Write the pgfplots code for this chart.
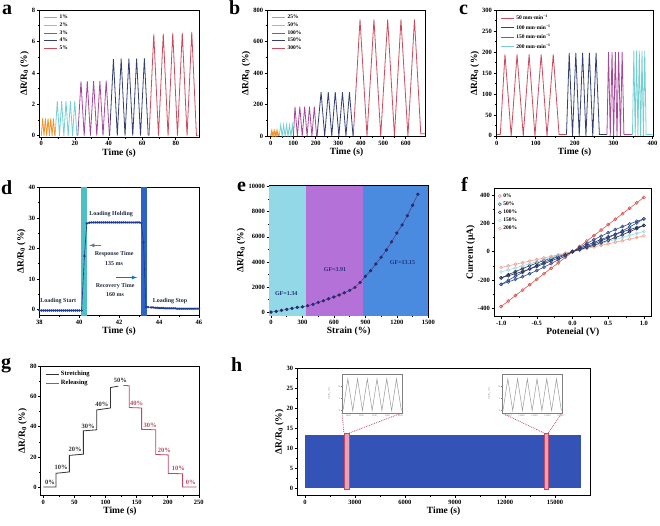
\documentclass[border=0pt]{standalone}
\usepackage{fontspec}
\setmainfont{Liberation Serif}
\usepackage{pgfplots}
\pgfplotsset{compat=1.18}
\definecolor{corange}{HTML}{F0952E}
\definecolor{ccyan}{HTML}{74CFD3}
\definecolor{cpurple}{HTML}{A6489A}
\definecolor{cnavy}{HTML}{34406F}
\definecolor{cred}{HTML}{C84B5E}
\definecolor{ecyan}{HTML}{93D8E6}
\definecolor{epurple}{HTML}{B472D8}
\definecolor{eblue}{HTML}{4A8BE0}
\definecolor{enavy}{HTML}{23307A}
\definecolor{dcyan}{HTML}{4DBFC5}
\definecolor{dblue}{HTML}{2F62C6}
\definecolor{dline}{HTML}{1E3A8C}
\definecolor{fred}{HTML}{D9534F}
\definecolor{fnavy}{HTML}{2E4C8C}
\definecolor{fdark}{HTML}{26305A}
\definecolor{fcyan}{HTML}{A3D6DF}
\definecolor{fsalmon}{HTML}{EDA394}
\definecolor{gblack}{HTML}{333333}
\definecolor{gred}{HTML}{B94A62}
\definecolor{hblue}{HTML}{3453B6}
\definecolor{hpink}{HTML}{E9A3B5}
\definecolor{hpinkd}{HTML}{C24A66}
\definecolor{txt}{HTML}{222A40}
\pgfplotsset{
  panel/.style={
    scale only axis, anchor=south west,
    axis line style={line width=0.9pt},
    tick align=outside, tick pos=left,
    major tick length=2.5pt, minor tick length=1.5pt,
    tick style={line width=0.6pt, black},
    ticklabel style={font=\bfseries\fontsize{6.5}{7}\selectfont, inner sep=1.5pt},
    label style={font=\bfseries\fontsize{9.5}{10}\selectfont},
    xlabel style={yshift=2pt}, ylabel style={yshift=-2pt},
    scaled x ticks=false, scaled y ticks=false,
    /pgf/number format/assume math mode=true,
    /pgf/number format/1000 sep={},
    legend cell align=left,
    legend style={draw=none, fill=none, at={(0.02,0.985)}, anchor=north west,
      font=\bfseries\fontsize{5.5}{6}\selectfont, row sep=-1.5pt, inner sep=1pt},
    legend image code/.code={\draw[#1, line width=0.9pt] (0pt,0pt) -- (13pt,0pt);},
  },
  inset/.style={
    scale only axis, anchor=south west,
    axis background/.style={fill=white},
    axis line style={line width=0.4pt, gray},
    tick align=outside, tick pos=left, major tick length=1pt,
    tick style={line width=0.3pt, gray},
    ticklabel style={font=\fontsize{2.5}{3}\selectfont, inner sep=0.5pt, text=gray},
    label style={font=\fontsize{2.5}{3}\selectfont, text=gray},
    ylabel style={yshift=3pt},
    scaled x ticks=false, scaled y ticks=false,
    /pgf/number format/assume math mode=true,
    /pgf/number format/1000 sep={},
  },
}
\begin{document}
\begin{tikzpicture}
\path[use as bounding box] (0pt,0pt) rectangle (660pt,-526pt);

% ---------------- a
\begin{axis}[panel, at={(39.3pt,-137.3pt)}, width=159.7pt, height=127.3pt,
  xmin=-1.2, xmax=93.8, ymin=-0.1, ymax=8,
  xtick={0,20,40,60,80}, ytick={0,2,4,6,8}, minor x tick num=1, minor y tick num=1,
  xlabel={Time (s)}, ylabel={ΔR/R\textsubscript{0} (\%)}]
\addplot[corange, line width=0.8pt] coordinates {(0,0)(0.8,1.1)(1.6,0)(2.4,1.1)(3.2,0)(4.0,1.1)(4.8,0)(5.6,1.1)(6.4,0)(7.2,1.1)(8.0,0)};
\addlegendentry{1\%}
\addplot[ccyan, line width=0.8pt] coordinates {(8.2,0)(9.5,2.2)(10.8,0)(12.1,2.2)(13.4,0)(14.7,2.2)(16.0,0)(17.3,2.2)(18.6,0)(19.9,2.2)(21.2,0)};
\addlegendentry{2\%}
\addplot[cpurple, line width=0.8pt] coordinates {(21.7,0)(23.6,3.45)(25.5,0)(27.35,3.47)(29.2,0)(31.1,3.47)(33.0,0)(34.85,3.47)(36.7,0)(38.6,3.5)(40.5,0)};
\addlegendentry{3\%}
\addplot[cnavy, line width=0.8pt] coordinates {(40.6,0)(42.9,4.88)(45.2,0)(47.5,4.9)(49.8,0)(52.1,4.9)(54.4,0)(56.7,4.9)(59.0,0)(61.3,4.92)(63.6,0)};
\addlegendentry{4\%}
\addplot[cred, line width=0.8pt] coordinates {(64.1,0)(66.9,6.45)(69.7,0)(72.55,6.5)(75.4,0)(78.2,6.55)(81.0,0)(83.85,6.55)(86.7,0)(89.5,6.6)(92.3,0)(93.5,0)};
\addlegendentry{5\%}
\end{axis}

% ---------------- b
\begin{axis}[panel, at={(267.3pt,-136.7pt)}, width=158.4pt, height=126.7pt,
  xmin=-15, xmax=689, ymin=-4, ymax=800,
  xtick={0,100,...,600}, ytick={0,200,400,600,800}, minor x tick num=1, minor y tick num=1,
  xlabel={Time (s)}, ylabel={ΔR/R\textsubscript{0} (\%)}]
\addplot[corange, line width=0.8pt] coordinates {(0,0)(3.5,32)(7,0)(10.5,32)(14,0)(17.5,32)(21,0)(24.5,32)(28,0)(31.5,32)(35,0)};
\addlegendentry{25\%}
\addplot[ccyan, line width=0.8pt] coordinates {(38,0)(44.5,70)(51,0)(57.5,70)(64,0)(70.5,70)(77,0)(83.5,70)(90,0)(96.5,70)(101,0)};
\addlegendentry{50\%}
\addplot[cpurple, line width=0.8pt] coordinates {(101,0)(108,186)(118.75,0)(129.5,186)(140.25,0)(151,186)(161.75,0)(172.5,186)(183.25,0)(194,186)(204,0)};
\addlegendentry{100\%}
\addplot[cnavy, line width=0.8pt] coordinates {(206,0)(224,279)(240,0)(256,279)(271.5,0)(287,279)(303,0)(319,279)(334.5,0)(350,279)(366,0)};
\addlegendentry{150\%}
\addplot[cred, line width=0.8pt] coordinates {(367,0)(397,740)(428,0)(459,740)(489,0)(520,740)(550,0)(579,740)(610,0)(639,740)(667,15)(685,15)};
\addlegendentry{300\%}
\end{axis}

% ---------------- c
\begin{axis}[panel, at={(496pt,-136.7pt)}, width=157.3pt, height=126.7pt,
  xmin=-2, xmax=402, ymin=-2, ymax=300,
  xtick={0,100,...,400}, ytick={0,50,...,300}, minor x tick num=1, minor y tick num=1,
  xlabel={Time (s)}, ylabel={ΔR/R\textsubscript{0} (\%)},
  legend style={row sep=-0.5pt}]
\addplot[cred, line width=0.8pt] coordinates {(0,3)(9,3)(21,194)(37,0)(52,194)(68,0)(83,194)(98,0)(114,194)(129,0)(145,194)(160,3)(179,3)};
\addlegendentry{50 mm·min\textsuperscript{−1}}
\addplot[cnavy, line width=0.8pt] coordinates {(179,3)(186,198)(194.5,0)(203,198)(211.75,0)(220.5,198)(229,0)(237.75,198)(246.5,0)(255,198)(263.5,3)(283,3)};
\addlegendentry{100 mm·min\textsuperscript{−1}}
\addplot[cpurple, line width=0.8pt] coordinates {(283,3)(287,200)(291.5,0)(296,200)(300,0)(304.5,200)(308.75,0)(313,200)(317.5,0)(322,200)(326.5,3)(348.5,3)};
\addlegendentry{150 mm·min\textsuperscript{−1}}
\addplot[ccyan, line width=0.8pt] coordinates {(348.5,3)(352,203)(355.5,0)(359,203)(362.5,0)(366,203)(369.5,0)(373,203)(376.5,0)(380,203)(383.5,3)(400,3)};
\addlegendentry{200 mm·min\textsuperscript{−1}}
\end{axis}

% ---------------- d
\begin{axis}[panel, at={(39.3pt,-315.7pt)}, width=159.7pt, height=128.4pt,
  xmin=38, xmax=46, ymin=-2, ymax=40,
  xtick={38,40,...,46}, ytick={0,10,...,40}, minor x tick num=1, minor y tick num=1,
  xlabel={Time (s)}, ylabel={ΔR/R\textsubscript{0} (\%)}]
\addplot[fill=dcyan, draw=none, forget plot] coordinates {(40.08,-2)(40.08,40)(40.38,40)(40.38,-2)} --cycle;
\addplot[fill=dblue, draw=none, forget plot] coordinates {(43.08,-2)(43.08,40)(43.38,40)(43.38,-2)} --cycle;
\addplot[dline, line width=0.6pt, mark=*, mark size=0.9pt, mark options={fill=dline, draw=dline}] coordinates {
(38.0,-0.2)(38.1,-0.3)(38.2,-0.3)(38.3,-0.3)(38.4,-0.3)(38.5,-0.3)(38.6,-0.3)(38.7,-0.3)(38.8,-0.3)(38.9,-0.3)
(39.0,-0.3)(39.1,-0.3)(39.2,-0.3)(39.3,-0.3)(39.4,-0.3)(39.5,-0.3)(39.6,-0.3)(39.7,-0.3)(39.8,-0.3)(39.9,-0.3)
(40.0,-0.3)(40.12,-0.3)(40.26,17.5)(40.38,28.2)(40.5,28.4)(40.6,28.5)(40.7,28.5)(40.8,28.5)(40.9,28.5)(41.0,28.5)
(41.1,28.5)(41.2,28.5)(41.3,28.5)(41.4,28.5)(41.5,28.5)(41.6,28.5)(41.7,28.5)(41.8,28.5)(41.9,28.5)(42.0,28.5)
(42.1,28.5)(42.2,28.5)(42.3,28.5)(42.4,28.5)(42.5,28.5)(42.6,28.5)(42.7,28.5)(42.8,28.5)(42.9,28.5)(43.0,28.5)
(43.1,28.4)(43.22,22.0)(43.34,0.9)(43.45,0.8)(43.6,0.7)(43.7,0.7)(43.8,0.6)(43.9,0.6)(44.0,0.5)(44.1,0.5)
(44.2,0.5)(44.3,0.4)(44.4,0.4)(44.5,0.4)(44.6,0.4)(44.7,0.4)(44.8,0.4)(44.9,0.3)(45.0,0.3)(45.1,0.3)
(45.2,0.3)(45.3,0.3)(45.4,0.3)(45.5,0.3)(45.6,0.3)(45.7,0.3)(45.8,0.3)(45.9,0.3)(46.0,0.3)};
\begin{scope}[font=\bfseries\fontsize{6}{7}\selectfont, text=txt]
\node at (axis cs:41.6,31.3) {Loading Holding};
\node at (axis cs:41.75,18.1) {Response Time};
\node at (axis cs:41.75,14.9) {135 ms};
\node at (axis cs:41.8,7.8) {Recovery Time};
\node at (axis cs:41.8,4.9) {160 ms};
\node at (axis cs:38.95,2.8) {Loading Start};
\node at (axis cs:44.55,2.8) {Loading Stop};
\end{scope}
\draw[-latex, line width=0.8pt, color=gray!70!teal] (axis cs:41.1,21.0) -- (axis cs:40.5,21.0);
\draw[-latex, line width=0.8pt, color=dline!70!cyan] (axis cs:41.85,10.5) -- (axis cs:42.9,10.5);
\end{axis}

% ---------------- e
\begin{axis}[panel, at={(269pt,-315.7pt)}, width=159.3pt, height=130pt,
  xmin=-19, xmax=1500, ymin=-290, ymax=10080,
  xtick={0,300,...,1500}, ytick={0,2000,...,10000}, minor x tick num=1, minor y tick num=1,
  xlabel={Strain (\%)}, ylabel={ΔR/R\textsubscript{0} (\%)}]
\addplot[fill=ecyan, draw=none, forget plot] coordinates {(-19,-290)(-19,10080)(330,10080)(330,-290)} --cycle;
\addplot[fill=epurple, draw=none, forget plot] coordinates {(330,-290)(330,10080)(880,10080)(880,-290)} --cycle;
\addplot[fill=eblue, draw=none, forget plot] coordinates {(880,-290)(880,10080)(1500,10080)(1500,-290)} --cycle;
\addplot[color=enavy!70!red, line width=0.4pt, mark=*, mark size=1.5pt, mark options={fill=enavy, draw=enavy!80!black, line width=0.3pt}] coordinates {
(0,0)(50,50)(100,130)(150,210)(200,290)(250,370)(300,420)(350,505)(400,610)(450,770)
(500,900)(550,1060)(600,1200)(650,1360)(700,1540)(750,1730)(800,1970)(850,2360)(900,2850)(950,3300)
(1000,3830)(1050,4380)(1100,4950)(1150,5600)(1200,6300)(1250,6950)(1300,7680)(1350,8520)(1400,9400)};
\begin{scope}[font=\bfseries\fontsize{6}{7}\selectfont, text=enavy]
\node at (axis cs:145,1500) {GF=1.34};
\node at (axis cs:610,3380) {GF=3.91};
\node at (axis cs:1255,3940) {GF=13.15};
\end{scope}
\end{axis}

% ---------------- f
\begin{axis}[panel, at={(494pt,-316.7pt)}, width=157.7pt, height=128.4pt,
  xmin=-1.1, xmax=1.11, ymin=-459, ymax=447,
  xtick={-1,-0.5,0,0.5,1}, ytick={-400,-200,0,200,400}, minor x tick num=1, minor y tick num=1,
  xticklabel={\pgfmathprintnumber[fixed,fixed zerofill,precision=1]{\tick}},
  xlabel={Poteneial (V)}, ylabel={Current (μA)},
  legend style={row sep=-1pt},
  legend image code/.code={\draw[#1, line width=0.5pt] plot coordinates {(4pt,0pt)};}]
\addplot[fred, line width=0.6pt, mark=o, mark size=1.5pt] coordinates {
(-1,-387)(-0.9,-348.5)(-0.8,-310)(-0.7,-271.5)(-0.6,-233)(-0.5,-194.5)(-0.4,-156)(-0.3,-117.5)(-0.2,-79)(-0.1,-40.5)
(0,-2)(0.1,36.5)(0.2,75)(0.3,113.5)(0.4,152)(0.5,190.5)(0.6,229)(0.7,267.5)(0.8,306)(0.9,344.5)(1.0,383)};
\addlegendentry{0\%}
\addplot[fnavy, line width=0.6pt, mark=o, mark size=1.5pt] coordinates {
(-1,-231)(-0.9,-201.9)(-0.8,-173.8)(-0.7,-146.7)(-0.6,-121.6)(-0.5,-97.5)(-0.4,-75.4)(-0.3,-54.3)(-0.2,-35.2)(-0.1,-17.1)
(0,0)(0.1,29.1)(0.2,57.2)(0.3,84.3)(0.4,109.4)(0.5,133.5)(0.6,155.6)(0.7,176.7)(0.8,195.8)(0.9,213.9)(1.0,231)};
\addlegendentry{50\%}
\addplot[fdark, line width=0.6pt, mark=o, mark size=1.5pt] coordinates {
(-1,-185)(-0.9,-162.5)(-0.8,-140.5)(-0.7,-119.5)(-0.6,-99.5)(-0.5,-80.5)(-0.4,-62.5)(-0.3,-45.5)(-0.2,-29.5)(-0.1,-14.5)
(0,0)(0.1,22.5)(0.2,44.5)(0.3,65.5)(0.4,85.5)(0.5,104.5)(0.6,122.5)(0.7,139.5)(0.8,155.5)(0.9,170.5)(1.0,185)};
\addlegendentry{100\%}
\addplot[fcyan, line width=0.6pt, mark=o, mark size=1.5pt] coordinates {
(-1,-143)(-0.9,-128.7)(-0.8,-114.4)(-0.7,-100.1)(-0.6,-85.8)(-0.5,-71.5)(-0.4,-57.2)(-0.3,-42.9)(-0.2,-28.6)(-0.1,-14.3)
(0,0)(0.1,14.3)(0.2,28.6)(0.3,42.9)(0.4,57.2)(0.5,71.5)(0.6,85.8)(0.7,100.1)(0.8,114.4)(0.9,128.7)(1.0,143)};
\addlegendentry{150\%}
\addplot[fsalmon, line width=0.6pt, mark=o, mark size=1.5pt] coordinates {
(-1,-111)(-0.9,-99.9)(-0.8,-88.8)(-0.7,-77.7)(-0.6,-66.6)(-0.5,-55.5)(-0.4,-44.4)(-0.3,-33.3)(-0.2,-22.2)(-0.1,-11.1)
(0,0)(0.1,11.1)(0.2,22.2)(0.3,33.3)(0.4,44.4)(0.5,55.5)(0.6,66.6)(0.7,77.7)(0.8,88.8)(0.9,99.9)(1.0,111)};
\addlegendentry{200\%}
\addplot[fnavy, line width=0.6pt, mark=o, mark size=1.5pt, forget plot] coordinates {
(-1,-231)(-0.9,-213.9)(-0.8,-195.8)(-0.7,-176.7)(-0.6,-155.6)(-0.5,-133.5)(-0.4,-109.4)(-0.3,-84.3)(-0.2,-57.2)(-0.1,-29.1)
(0,0)(0.1,17.1)(0.2,35.2)(0.3,54.3)(0.4,75.4)(0.5,97.5)(0.6,121.6)(0.7,146.7)(0.8,173.8)(0.9,201.9)(1.0,231)};
\addplot[fdark, line width=0.6pt, mark=o, mark size=1.5pt, forget plot] coordinates {
(-1,-185)(-0.9,-170.5)(-0.8,-155.5)(-0.7,-139.5)(-0.6,-122.5)(-0.5,-104.5)(-0.4,-85.5)(-0.3,-65.5)(-0.2,-44.5)(-0.1,-22.5)
(0,0)(0.1,14.5)(0.2,29.5)(0.3,45.5)(0.4,62.5)(0.5,80.5)(0.6,99.5)(0.7,119.5)(0.8,140.5)(0.9,162.5)(1.0,185)};
\end{axis}

% ---------------- g
\begin{axis}[panel, at={(40.7pt,-495.7pt)}, width=158.6pt, height=129.7pt,
  xmin=-4.3, xmax=250.8, ymin=-5.8, ymax=80.4,
  xtick={0,50,...,250}, ytick={0,20,...,80}, minor x tick num=1, minor y tick num=1,
  xlabel={Time (s)}, ylabel={ΔR/R\textsubscript{0} (\%)},
  legend style={font=\bfseries\fontsize{6.5}{7}\selectfont, row sep=-1pt}]
\addplot[gblack, line width=0.8pt] coordinates {(0,0)(20.4,0)(20.4,9.1)(41.8,10)(41.8,21)(64.3,21.8)(64.3,37.3)(85.7,38)(85.7,51.2)(108,52.5)(108,66.1)(120.6,67)};
\addlegendentry{Stretching}
\addplot[gred, line width=0.8pt] coordinates {(128.6,67.5)(138,67.3)(138,52.8)(158,52.5)(158,38.3)(180.6,38)(180.6,21.6)(201,21.3)(201,9)(224,8.8)(224,0)(246.5,0)};
\addlegendentry{Releasing}
\begin{scope}[font=\bfseries\fontsize{6.5}{7}\selectfont]
\node[text=gblack] at (axis cs:10.7,3.1) {0\%};
\node[text=gblack] at (axis cs:28.4,13.3) {10\%};
\node[text=gblack] at (axis cs:51,25) {20\%};
\node[text=gblack] at (axis cs:72,40.5) {30\%};
\node[text=gblack] at (axis cs:94,55) {40\%};
\node[text=gblack] at (axis cs:124,71) {50\%};
\node[text=gred] at (axis cs:150,55.5) {40\%};
\node[text=gred] at (axis cs:171.5,40.8) {30\%};
\node[text=gred] at (axis cs:194.5,24.6) {20\%};
\node[text=gred] at (axis cs:217,12.4) {10\%};
\node[text=gred] at (axis cs:237,3) {0\%};
\end{scope}
\end{axis}

% ---------------- h
\begin{axis}[panel, at={(297.3pt,-495.7pt)}, width=292.7pt, height=127.4pt,
  xmin=-460, xmax=17100, ymin=-1.9, ymax=30,
  xtick={0,3000,...,15000}, ytick={0,5,...,30}, minor x tick num=1, minor y tick num=1,
  xlabel={Time (s)}, ylabel={ΔR/R\textsubscript{0} (\%)}]
\addplot[fill=hblue, draw=none] coordinates {(0,0)(0,13.2)(16540,13.2)(16540,0)} --cycle;
\addplot[fill=hpink, draw=hpinkd, line width=0.6pt] coordinates {(2340,-0.2)(2340,13.8)(2660,13.8)(2660,-0.2)} --cycle;
\addplot[fill=hpink, draw=hpinkd, line width=0.6pt] coordinates {(14340,-0.2)(14340,13.8)(14600,13.8)(14600,-0.2)} --cycle;
\draw[hpinkd, densely dotted, line width=0.8pt] (axis cs:2222,18.8) -- (axis cs:2340,13.8);
\draw[hpinkd, densely dotted, line width=0.8pt] (axis cs:5821,18.8) -- (axis cs:2660,13.8);
\draw[hpinkd, densely dotted, line width=0.8pt] (axis cs:11820,18.8) -- (axis cs:14340,13.8);
\draw[hpinkd, densely dotted, line width=0.8pt] (axis cs:15420,18.8) -- (axis cs:14600,13.8);
\end{axis}

% insets
\begin{axis}[inset, at={(342pt,-413pt)}, width=60pt, height=39pt,
  xmin=2440, xmax=2625, ymin=-1, ymax=15, xtick={2460,2500,2540,2580,2620}, ytick={0,5,10},
  ylabel={ΔR/R\textsubscript{0} (\%)}]
\addplot[gray!80, line width=0.5pt] coordinates {(2443,0)(2458,13)(2473,0)(2488,13)(2503,0)(2518,13)(2533,0)(2548,13)(2563,0)(2578,13)(2593,0)(2608,13)(2623,0)};
\end{axis}
\begin{axis}[inset, at={(502pt,-413pt)}, width=60pt, height=39pt,
  xmin=14400, xmax=14585, ymin=-1, ymax=15, xtick={14420,14460,14500,14540,14580}, ytick={0,5,10},
  ylabel={ΔR/R\textsubscript{0} (\%)}]
\addplot[gray!80, line width=0.5pt] coordinates {(14403,0)(14418,13)(14433,0)(14448,13)(14463,0)(14478,13)(14493,0)(14508,13)(14523,0)(14538,13)(14553,0)(14568,13)(14583,0)};
\end{axis}

% panel letters
\begin{scope}[font=\bfseries\fontsize{20}{20}\selectfont]
\node[anchor=base west, inner sep=0pt] at (2pt,-15pt) {a};
\node[anchor=base west, inner sep=0pt] at (229pt,-15pt) {b};
\node[anchor=base west, inner sep=0pt] at (459pt,-15pt) {c};
\node[anchor=base west, inner sep=0pt] at (1pt,-195pt) {d};
\node[anchor=base west, inner sep=0pt] at (237pt,-192pt) {e};
\node[anchor=base west, inner sep=0pt] at (461pt,-192pt) {f};
\node[anchor=base west, inner sep=0pt] at (1pt,-368pt) {g};
\node[anchor=base west, inner sep=0pt] at (231pt,-371pt) {h};
\end{scope}
\end{tikzpicture}
\end{document}
